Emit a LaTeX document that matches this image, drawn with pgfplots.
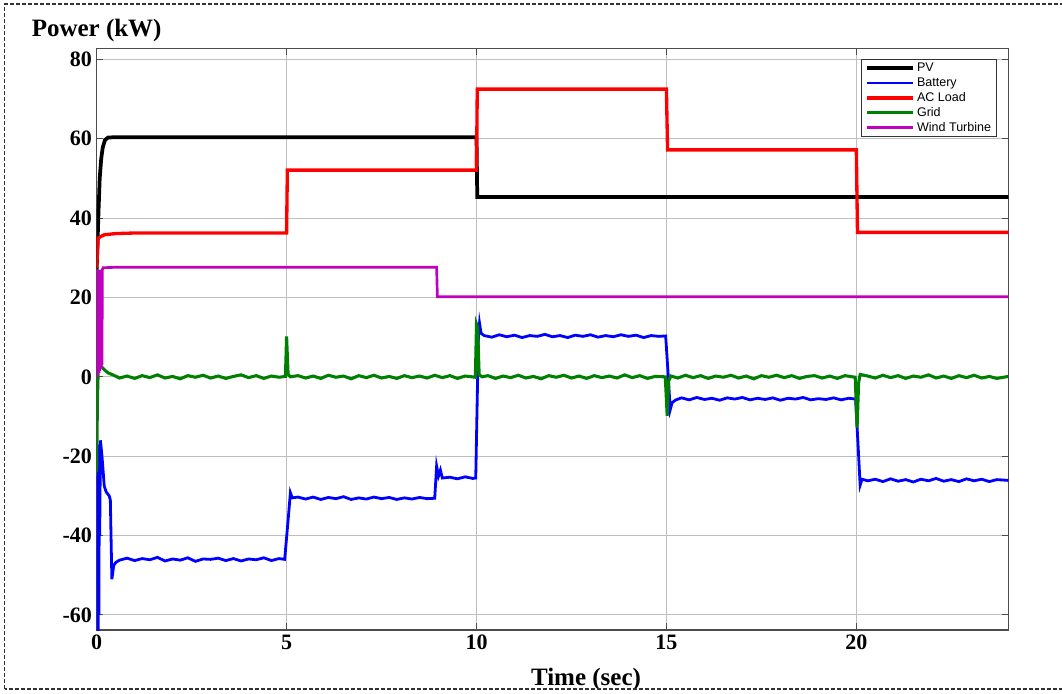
\documentclass[border=0pt]{standalone}
\usepackage{fontspec}
\setmainfont{Liberation Serif}
\setsansfont{Liberation Sans}
\usepackage{pgfplots}
\pgfplotsset{compat=1.18}
\definecolor{pvc}{RGB}{0,0,0}
\definecolor{batc}{RGB}{0,0,255}
\definecolor{acc}{RGB}{255,0,0}
\definecolor{gridc}{RGB}{0,128,0}
\definecolor{windc}{RGB}{191,0,191}
\begin{document}
\begin{tikzpicture}
\begin{axis}[
  at={(0,0)}, anchor=south west,
  scale only axis, width=683.7pt, height=436.3pt,
  xmin=0, xmax=24, ymin=-63.8, ymax=82.8,
  xtick={0,5,10,15,20}, xticklabels={0,5,10,15,20},
  ytick={-60,-40,-20,0,20,40,60,80},
  yticklabels={-60,-40,-20,0,20,40,60,80},
  ticklabel style={font=\fontsize{16.5}{18}\selectfont\bfseries},
  tick align=inside, major tick length=5pt,
  tick style={black!70, line width=0.7pt},
  grid=major, major grid style={black!25, line width=0.7pt},
  axis line style={black!70, line width=0.9pt},
  xlabel={Time (sec)}, ylabel={Power (kW)},
  label style={font=\fontsize{18.75}{20}\selectfont\bfseries},
  xlabel style={at={(axis description cs:0.5368,-0.0946)}, anchor=base},
  ylabel style={rotate=-90, at={(axis description cs:0,1.021)}, anchor=base},
  legend style={at={(axis description cs:0.9876,0.9816)}, anchor=north east,
    draw=black!80, line width=0.6pt, fill=white,
    font=\fontsize{9.4}{10}\selectfont\sffamily,
    inner xsep=2.5pt, inner ysep=1.4pt, row sep=1.0pt,
    nodes={inner xsep=1.6pt, inner ysep=0.8pt, text height=6.8pt, text depth=1.8pt}},
  legend cell align=left,
  legend image code/.code={\draw[#1] (0pt,0pt) -- (34.5pt,0pt);},
]
% PV
\addplot[pvc, line width=2.8pt] coordinates {
(0,27) (0.02,33) (0.05,42) (0.08,50) (0.12,55) (0.16,57.8) (0.22,59.7) (0.3,60.3) (0.5,60.4)
(10.0,60.4) (10.02,45.3) (24,45.3)};
\addlegendentry{PV}
% Battery
\addplot[batc, line width=2.1pt] coordinates {
(0,-68) (0.01,-30) (0.02,-66) (0.03,-25) (0.04,-64) (0.05,-20) (0.06,-60) (0.07,-17) (0.08,-40) (0.1,-16) (0.14,-20) (0.2,-27.5) (0.25,-29) (0.33,-30) (0.36,-31) (0.4,-51) (0.45,-47.5) (0.5,-46.8) (0.6,-46.2)
(0.8,-45.7) (1.0,-46.3) (1.2,-45.8) (1.4,-46.1) (1.6,-45.5) (1.8,-46.4) (2.0,-45.9) (2.2,-46.2) (2.4,-45.6) (2.6,-46.5) (2.8,-45.9) (3.0,-46.0) (3.2,-45.7) (3.4,-46.3) (3.6,-45.8) (3.8,-46.4) (4.0,-45.9) (4.2,-46.1) (4.4,-45.6) (4.6,-46.3) (4.8,-45.8) (4.95,-46.0)
(5.05,-35) (5.1,-29.2) (5.15,-30.5) (5.3,-30.3) (5.5,-30.8) (5.7,-30.3) (5.9,-30.9) (6.1,-30.4) (6.3,-30.7) (6.5,-30.2) (6.7,-30.9) (6.9,-30.5) (7.1,-30.8) (7.3,-30.3) (7.5,-30.7) (7.7,-30.4) (7.9,-30.9) (8.1,-30.5) (8.3,-30.8) (8.5,-30.4) (8.7,-30.7) (8.9,-30.6)
(8.95,-22.5) (9.0,-25) (9.05,-23.5) (9.1,-25.5) (9.3,-25.3) (9.5,-25.7) (9.7,-25.2) (9.9,-25.6) (9.98,-25.5)
(10.05,10) (10.08,13.5) (10.12,11) (10.2,10.4) (10.4,10.0) (10.6,10.6) (10.8,10.1) (11.0,10.5) (11.2,9.9) (11.4,10.4) (11.6,10.2) (11.8,10.7) (12.0,10.1) (12.2,10.4) (12.4,9.9) (12.6,10.5) (12.8,10.2) (13.0,10.6) (13.2,10.0) (13.4,10.4) (13.6,10.1) (13.8,10.6) (14.0,10.2) (14.2,10.5) (14.4,9.9) (14.6,10.4) (14.8,10.2) (14.98,10.3)
(15.05,0) (15.1,-8.3) (15.15,-6.5) (15.25,-5.8) (15.4,-5.3) (15.6,-5.8) (15.8,-5.2) (16.0,-5.7) (16.2,-5.4) (16.4,-5.9) (16.6,-5.3) (16.8,-5.6) (17.0,-5.2) (17.2,-5.8) (17.4,-5.4) (17.6,-5.7) (17.8,-5.3) (18.0,-5.9) (18.2,-5.4) (18.4,-5.6) (18.6,-5.2) (18.8,-5.8) (19.0,-5.5) (19.2,-5.7) (19.4,-5.3) (19.6,-5.8) (19.8,-5.4) (19.98,-5.6)
(20.05,-18) (20.1,-27.3) (20.15,-25.8) (20.3,-26.2) (20.5,-25.8) (20.7,-26.4) (20.9,-25.7) (21.1,-26.3) (21.3,-25.9) (21.5,-26.5) (21.7,-25.8) (21.9,-26.2) (22.1,-25.6) (22.3,-26.3) (22.5,-25.9) (22.7,-26.4) (22.9,-25.7) (23.1,-26.2) (23.3,-25.8) (23.5,-26.4) (23.7,-25.9) (24,-26.1)};
\addlegendentry{Battery}
% AC Load
\addplot[acc, line width=2.5pt] coordinates {
(0,27.5) (0.04,35) (0.2,35.8) (0.5,36.1) (1,36.25) (5.0,36.25) (5.02,52.1) (10.0,52.1) (10.02,72.5) (15.0,72.5) (15.03,57.2) (20.0,57.2) (20.03,36.4) (24,36.4)};
\addlegendentry{AC Load}
% Grid
\addplot[gridc, line width=2.3pt] coordinates {
(0,-24) (0.02,-6) (0.04,1.5) (0.08,3.2) (0.12,2.6) (0.2,1.8) (0.3,1.0) (0.45,0.4) (0.6,-0.3)
(0.8,0.2) (1.0,-0.4) (1.2,0.3) (1.4,-0.2) (1.6,0.5) (1.8,-0.3) (2.0,0.1) (2.2,-0.5) (2.4,0.3) (2.6,-0.1) (2.8,0.4) (3.0,-0.3) (3.2,0.2) (3.4,-0.4) (3.6,0.1) (3.8,0.5) (4.0,-0.2) (4.2,0.3) (4.4,-0.4) (4.6,0.2) (4.8,-0.1) (4.97,0.1)
(5.0,10.2) (5.04,0.6) (5.1,0)
(5.3,0.3) (5.5,-0.3) (5.7,0.2) (5.9,-0.4) (6.1,0.4) (6.3,-0.1) (6.5,0.2) (6.7,-0.5) (6.9,0.3) (7.1,-0.2) (7.3,0.4) (7.5,-0.3) (7.7,0.1) (7.9,-0.4) (8.1,0.3) (8.3,-0.2) (8.5,0.2) (8.7,-0.3) (8.9,0.4) (9.1,-0.2) (9.3,0.3) (9.5,-0.4) (9.7,0.2) (9.97,-0.1)
(10.0,13.3) (10.03,12.5) (10.07,0.5) (10.15,0)
(10.3,0.3) (10.5,-0.4) (10.7,0.2) (10.9,-0.2) (11.1,0.4) (11.3,-0.3) (11.5,0.1) (11.7,-0.5) (11.9,0.3) (12.1,-0.1) (12.3,0.4) (12.5,-0.3) (12.7,0.2) (12.9,-0.4) (13.1,0.3) (13.3,-0.2) (13.5,0.2) (13.7,-0.3) (13.9,0.5) (14.1,-0.2) (14.3,0.3) (14.5,-0.4) (14.7,0.1) (14.97,0)
(15.02,-9.8) (15.06,-1) (15.12,0.2)
(15.3,-0.3) (15.5,0.4) (15.7,-0.2) (15.9,0.3) (16.1,-0.4) (16.3,0.2) (16.5,-0.1) (16.7,0.4) (16.9,-0.3) (17.1,0.2) (17.3,-0.5) (17.5,0.3) (17.7,-0.1) (17.9,0.4) (18.1,-0.2) (18.3,0.3) (18.5,-0.4) (18.7,0.1) (18.9,0.3) (19.1,-0.3) (19.3,0.2) (19.5,-0.4) (19.7,0.3) (19.97,-0.1)
(20.02,-12.8) (20.06,-1.5) (20.1,0.6)
(20.3,0.2) (20.5,-0.3) (20.7,0.4) (20.9,-0.2) (21.1,0.3) (21.3,-0.4) (21.5,0.2) (21.7,-0.1) (21.9,0.5) (22.1,-0.3) (22.3,0.2) (22.5,-0.4) (22.7,0.3) (22.9,-0.2) (23.1,0.4) (23.3,-0.3) (23.5,0.1) (23.7,-0.4) (24,0.1)};
\addlegendentry{Grid}
% Wind Turbine
\addplot[windc, line width=2pt] coordinates {
(0,0) (0.01,27) (0.02,0.5) (0.03,27) (0.04,1) (0.05,27) (0.06,1) (0.07,27) (0.08,1.5) (0.09,27) (0.1,2) (0.11,27) (0.12,2) (0.13,27) (0.14,3) (0.15,27) (0.17,27.5) (0.5,27.6) (8.95,27.6) (8.97,20.2) (24,20.2)};
\addlegendentry{Wind Turbine}
\end{axis}
\draw[black!80, line width=0.9pt, dash pattern=on 3pt off 1.5pt]
  (-69pt,-44.25pt) rectangle (729.75pt,469.5pt);
\pgfresetboundingbox
\useasboundingbox (-72.5pt,-47.25pt) rectangle (724pt,472.5pt);
\end{tikzpicture}
\end{document}
